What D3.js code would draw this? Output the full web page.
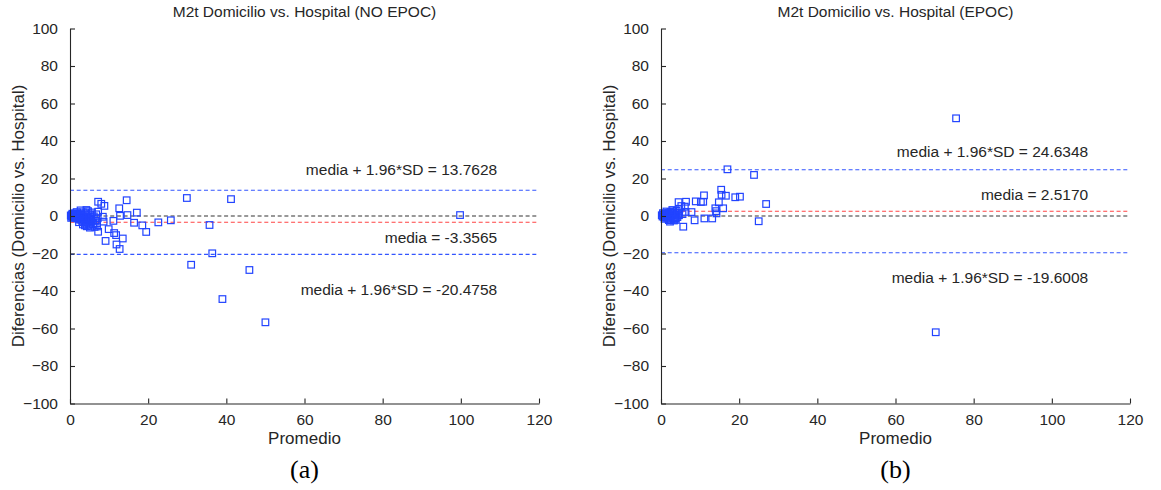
<!DOCTYPE html>
<html>
<head>
<meta charset="utf-8">
<script src="https://cdn.jsdelivr.net/npm/d3@7"></script>
<style>
  body { margin: 0; background: #fff; }
  svg { display: block; }
  text { font-family: "Liberation Sans", Arial, sans-serif; fill: #262626; }
</style>
</head>
<body>
<div id="chart"></div>
<script>
// axis ticks (same for both panels)
var xTicks = [0, 20, 40, 60, 80, 100, 120];
var yTicks = [-100, -80, -60, -40, -20, 0, 20, 40, 60, 80, 100];

// panel titles / captions
var titles = ["M2t Domicilio vs. Hospital (NO EPOC)", "M2t Domicilio vs. Hospital (EPOC)"];
var captions = ["(a)", "(b)"];

// mean and limits of agreement
var meansA = [-3.3565];
var upperA = [13.7628];
var lowerA = [-20.4758];
var meansB = [2.5170];
var upperB = [24.6348];
var lowerB = [-19.6008];

// [promedio, diferencia] - NO EPOC
var pointsA = [
  [0.2,0.3],[0.4,-0.2],[0.5,0.5],[0.7,-0.5],[0.8,0.1],[1.0,0.6],[1.1,-0.8],[1.2,0.2],[1.4,-0.3],[1.5,0.9],
  [1.6,-1.2],[1.8,0.4],[1.9,-0.6],[2.0,1.1],[2.1,-1.5],[2.2,0.0],[2.4,-0.9],[2.5,0.7],[2.6,-2.0],[2.8,-0.3],
  [2.9,1.4],[3.0,-1.1],[3.1,-2.6],[3.2,0.5],[3.4,-1.8],[3.5,2.0],[3.6,-0.7],[3.7,-3.2],[3.9,0.9],[4.0,-2.3],
  [4.1,-4.0],[4.2,1.5],[4.4,-1.2],[4.5,-3.5],[4.6,2.6],[4.8,-0.4],[4.9,-4.6],[5.0,-2.0],[5.2,0.8],[5.3,-5.2],
  [5.5,-3.0],[5.6,1.9],[5.8,-1.5],[5.9,-4.3],[6.1,-0.2],[6.3,-5.8],[6.5,-2.6],[6.7,0.9],[6.9,-3.9],[7.1,-1.2],
  [0.3,-1.0],[1.3,1.5],[2.3,-3.3],[3.3,-4.5],[4.3,-5.5],[0.6,1.2],[1.7,2.1],[2.7,3.0],[3.8,-5.0],[5.1,-6.2],
  [7.2,7.6],[8.0,6.5],[8.8,5.4],[14.5,8.4],[12.6,4.1],[4.2,3.2],[7.2,2.3],[14.7,0.5],[17.1,1.8],[12.8,0.1],
  [11.1,-2.6],[8.6,-3.0],[9.9,-7.0],[11.3,-9.1],[11.8,-10.2],[13.5,-12.0],[9.1,-13.3],[11.9,-15.2],[12.7,-17.6],
  [16.4,-3.6],[18.5,-5.0],[19.5,-8.5],[22.6,-3.4],[25.8,-2.3],[8.4,-0.4],[7.2,-8.4],[6.9,-5.6],
  [29.9,9.6],[41.2,9.0],[99.8,0.5],[35.7,-4.8],[36.4,-19.9],[31.0,-26.0],[45.9,-28.8],[39.0,-44.3],[50.0,-56.7]
];

// [promedio, diferencia] - EPOC
var pointsB = [
  [0.2,0.4],[0.4,-0.3],[0.6,0.8],[0.8,-0.6],[1.0,0.2],[1.1,1.2],[1.3,-1.0],[1.5,0.5],[1.6,-0.2],[1.8,1.6],
  [1.9,-1.4],[2.1,0.9],[2.2,-0.5],[2.4,2.1],[2.5,-1.9],[2.7,0.3],[2.8,1.3],[3.0,-0.9],[3.1,2.5],[3.3,-2.4],
  [3.4,0.6],[3.6,1.8],[3.7,-1.2],[3.9,0.1],[4.0,2.8],[4.2,-0.6],[4.4,1.0],[0.5,1.5],[1.4,2.4],[2.0,-2.2],
  [2.9,3.2],[3.5,-1.6],[4.6,0.4],[0.9,-1.5],[2.6,1.9],
  [75.5,52.1],[70.3,-62.0],[17.0,24.9],[23.8,21.9],[26.9,6.4],[25.0,-2.8],[15.4,14.0],[16.6,10.8],[15.5,11.3],
  [19.0,10.0],[20.2,10.3],[11.0,11.0],[10.8,7.6],[10.2,7.5],[8.9,7.8],[14.8,7.3],[15.9,4.1],[13.9,4.1],
  [14.1,2.6],[14.2,1.4],[11.1,-1.3],[13.1,-1.3],[8.6,-2.3],[5.7,-5.7],[6.4,7.6],[4.5,7.4],[6.1,5.0],[5.2,5.3],
  [7.8,2.1],[4.7,3.6],[3.8,-2.1],[2.3,-3.0],[6.3,2.2],[5.5,1.0]
];

var panels = [
  {x0: 70, points: pointsA, lines: [
    {v: upperA[0], c: "#3355ff"}, {v: 0, c: "#333333"}, {v: meansA[0], c: "#ff4444"}, {v: lowerA[0], c: "#3355ff"}],
   notes: [
    {y: 24.5, t: "media + 1.96*SD = " + upperA[0].toFixed(4)},
    {y: -11.7, t: "media = " + meansA[0].toFixed(4)},
    {y: -39.5, t: "media + 1.96*SD = " + lowerA[0].toFixed(4)}]},
  {x0: 661, points: pointsB, lines: [
    {v: upperB[0], c: "#3355ff"}, {v: meansB[0], c: "#ff4444"}, {v: 0, c: "#333333"}, {v: lowerB[0], c: "#3355ff"}],
   notes: [
    {y: 34.1, t: "media + 1.96*SD = " + upperB[0].toFixed(4)},
    {y: 11.2, t: "media = " + meansB[0].toFixed(4)},
    {y: -33, t: "media + 1.96*SD = " + lowerB[0].toFixed(4)}]}
];

var svg = d3.select("#chart").append("svg").attr("width", 1161).attr("height", 490);

var pw = 469, plotTop = 28.5, plotBottom = 403.5;

panels.forEach(function(p, i){
  var x = d3.scaleLinear().domain([0, 120]).range([p.x0, p.x0 + pw]);
  var y = d3.scaleLinear().domain([-100, 100]).range([plotBottom, plotTop]);
  var g = svg.append("g");
  var cx = p.x0 + pw / 2;

  // reference lines
  g.selectAll(".ref").data(p.lines).enter().append("line")
    .attr("x1", x(0)).attr("x2", x(120))
    .attr("y1", d => y(d.v)).attr("y2", d => y(d.v))
    .attr("stroke", d => d.c).attr("stroke-width", 1.1)
    .attr("stroke-dasharray", "4,2.7");

  // points
  g.selectAll(".pt").data(p.points).enter().append("rect")
    .attr("x", d => x(d[0]) - 3.3).attr("y", d => y(d[1]) - 3.3)
    .attr("width", 6.6).attr("height", 6.6)
    .attr("fill", "none").attr("stroke", "#2244ff").attr("stroke-width", 1.2);

  // axes (ticks inward, box off)
  var xa = g.append("g").attr("transform", "translate(0," + plotBottom + ")")
    .call(d3.axisBottom(x).tickValues(xTicks).tickSizeInner(-5).tickSizeOuter(0).tickPadding(10));
  var ya = g.append("g").attr("transform", "translate(" + p.x0 + ",0)")
    .call(d3.axisLeft(y).tickValues(yTicks).tickSizeInner(-5).tickSizeOuter(0).tickPadding(12));
  [xa, ya].forEach(function(a){
    a.select(".domain").attr("stroke", "#262626").attr("stroke-width", 1.1);
    a.selectAll(".tick line").attr("stroke", "#262626").attr("stroke-width", 1.1);
    a.selectAll(".tick text").attr("font-size", 15.5).attr("font-family", "Liberation Sans, Arial, sans-serif").attr("fill", "#262626");
  });

  // annotations
  g.selectAll(".note").data(p.notes).enter().append("text")
    .attr("x", x(109.3)).attr("y", d => y(d.y)).attr("dy", "0.35em")
    .attr("text-anchor", "end").attr("font-size", 15.5).text(d => d.t);

  // titles and labels
  g.append("text").attr("x", cx).attr("y", 17).attr("text-anchor", "middle")
    .attr("font-size", 15.5).text(titles[i]);
  g.append("text").attr("x", cx).attr("y", 444).attr("text-anchor", "middle")
    .attr("font-size", 17).text("Promedio");
  g.append("text").attr("transform", "translate(" + (p.x0 - 46) + "," + y(0) + ") rotate(-90)")
    .attr("text-anchor", "middle").attr("font-size", 17).text("Diferencias (Domicilio vs. Hospital)");
  g.append("text").attr("x", cx).attr("y", 478).attr("text-anchor", "middle")
    .attr("font-size", 26).style("font-family", "Liberation Serif, Times New Roman, serif").style("fill", "#000")
    .text(captions[i]);
});
</script>
</body>
</html>
